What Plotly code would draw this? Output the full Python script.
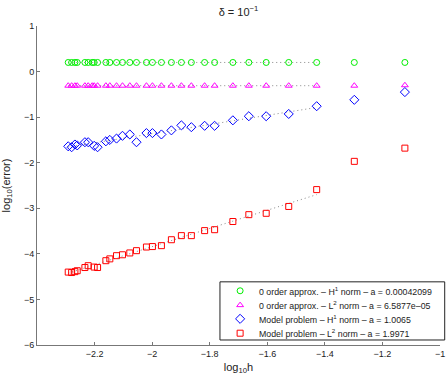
import numpy as np
from plotly import graph_objects as go

# log10(h) for every run
log_h = [
    -2.2915, -2.2797, -2.2683, -2.2603, -2.2336, -2.2222, -2.2083, -2.2014,
    -2.1896, -2.1608, -2.1470, -2.1237, -2.1030, -2.0776, -2.0544, -2.0198,
    -1.9990, -1.9678, -1.9331, -1.8984, -1.8638, -1.8177, -1.7830, -1.7196,
    -1.6641, -1.6038, -1.5255, -1.4284, -1.2977, -1.1220,
]

# log10(error)
h1_zero_order = [
    0.20, 0.20, 0.20, 0.20, 0.20, 0.20, 0.20, 0.20, 0.20, 0.20,
    0.20, 0.20, 0.20, 0.20, 0.20, 0.20, 0.20, 0.20, 0.20, 0.20,
    0.20, 0.20, 0.20, 0.20, 0.20, 0.20, 0.20, 0.20, 0.20, 0.20,
]
l2_zero_order = [
    -0.31, -0.31, -0.31, -0.31, -0.31, -0.31, -0.31, -0.31, -0.31, -0.31,
    -0.31, -0.31, -0.31, -0.31, -0.31, -0.31, -0.31, -0.31, -0.31, -0.31,
    -0.31, -0.31, -0.31, -0.31, -0.31, -0.31, -0.31, -0.31, -0.31, -0.30,
]
h1_model = [
    -1.64, -1.66, -1.60, -1.62, -1.55, -1.55, -1.63, -1.66, -1.53, -1.50,
    -1.47, -1.41, -1.38, -1.55, -1.35, -1.35, -1.38, -1.29, -1.18, -1.22,
    -1.19, -1.19, -1.07, -0.98, -0.98, -0.93, -0.76, -0.62, -0.45,
]
l2_model = [
    -4.40, -4.41, -4.39, -4.37, -4.30, -4.26, -4.29, -4.30, -4.15, -4.11,
    -4.04, -4.02, -3.98, -3.93, -3.85, -3.84, -3.82, -3.69, -3.60, -3.60,
    -3.49, -3.47, -3.29, -3.14, -3.11, -2.96, -2.59, -1.97, -1.68,
]
# the diamond/square runs skip one h value of the circle runs
log_h_model = log_h[:6] + log_h[7:]

series = [
    ("0 order approx. – H<sup>1</sup> norm – a = 0.00042099", log_h, h1_zero_order, "circle-open", "#00ee00", 6),
    ("0 order approx. – L<sup>2</sup> norm – a = 6.5877e–05", log_h, l2_zero_order, "triangle-up-open", "#ff00ff", 6),
    ("Model problem – H<sup>1</sup> norm – a = 1.0065", log_h_model, h1_model, "diamond-open", "#0000ff", 7),
    ("Model problem – L<sup>2</sup> norm – a = 1.9971", log_h_model, l2_model, "square-open", "#ff0000", 6),
]

n_fit_skip = 2  # last two (coarsest) runs are left out of the fit
font = "Liberation Sans, Arial"
ink = "#222222"

fig = go.Figure()

# dotted least squares lines
for name, xs, ys, symbol, color, size in series:
    xf = np.array(xs[:-n_fit_skip])
    yf = np.array(ys[:-n_fit_skip])
    a, b = np.polyfit(xf, yf, 1)
    ends = np.array([xf.min(), xf.max()])
    fig.add_trace(
        go.Scatter(
            x=ends,
            y=a * ends + b,
            mode="lines",
            line=dict(color="#888888", width=1, dash="1px,3px"),
            showlegend=False,
            hoverinfo="skip",
        )
    )

for name, xs, ys, symbol, color, size in series:
    fig.add_trace(
        go.Scatter(
            name=name,
            x=xs,
            y=ys,
            mode="markers",
            marker=dict(symbol=symbol, size=size, color=color, line=dict(width=1, color=color)),
            showlegend=False,
        )
    )

# hand made legend (plotly's own legend rows are too tall), box in paper units
box = dict(x0=0.454, x1=1.0117, y0=0.0157, y1=0.198)
row_y = [0.170, 0.125, 0.082, 0.037]
fig.add_shape(type="rect", xref="paper", yref="paper", line=dict(color=ink, width=1),
              fillcolor="white", layer="below", **box)
for (name, xs, ys, symbol, color, size), ry in zip(series, row_y):
    fig.add_trace(
        go.Scatter(
            x=[0.504], y=[ry], xaxis="x2", yaxis="y2", mode="markers",
            marker=dict(symbol=symbol, size=size, color=color, line=dict(width=1, color=color)),
            showlegend=False, hoverinfo="skip",
        )
    )
    fig.add_annotation(
        text=name, x=0.546, y=ry, xref="paper", yref="paper",
        xanchor="left", yanchor="middle", showarrow=False,
        font=dict(family=font, size=8.8, color=ink),
    )

axis_style = dict(
    showgrid=False,
    zeroline=False,
    showline=True,
    linecolor="#777777",
    linewidth=1,
    ticks="inside",
    ticklen=3,
    tickcolor="#777777",
    tickfont=dict(family=font, size=9, color=ink),
    automargin=False,
)

fig.update_xaxes(
    range=[-2.4, -1],
    tickvals=[-2.2, -2, -1.8, -1.6, -1.4, -1.2, -1],
    title=dict(text="log<sub>10</sub>h", font=dict(family=font, size=11, color=ink)),
    **axis_style,
)
fig.update_yaxes(
    range=[-6, 1],
    tickvals=[-6, -5, -4, -3, -2, -1, 0, 1],
    title=dict(text="log<sub>10</sub>(error)", font=dict(family=font, size=11, color=ink)),
    **axis_style,
)

fig.update_layout(
    width=446,
    height=375,
    template="plotly_white",
    plot_bgcolor="white",
    paper_bgcolor="white",
    margin=dict(l=37, r=6, t=26, b=30),
    showlegend=False,
    xaxis2=dict(overlaying="x", range=[0, 1], visible=False, fixedrange=True),
    yaxis2=dict(overlaying="y", range=[0, 1], visible=False, fixedrange=True),
    title=dict(
        text="δ = 10<sup>−1</sup>",
        x=(37 + 201.5) / 446,
        xanchor="center",
        y=0.968,
        yanchor="middle",
        font=dict(family=font, size=11, color=ink),
    ),
)

# page has an 8px body margin by default; drop it so the figure fills the window
fig.write_html(
    "out.html",
    config={"displayModeBar": False},
    post_script="document.body.style.margin='0';",
)
